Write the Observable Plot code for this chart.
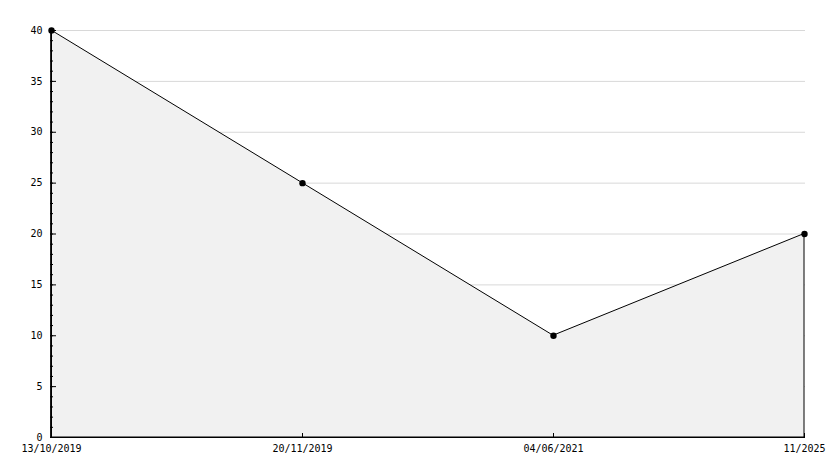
<!DOCTYPE html>
<html>
<head>
<meta charset="utf-8">
<script src="https://cdn.jsdelivr.net/npm/d3@7"></script>
<script src="https://cdn.jsdelivr.net/npm/@observablehq/plot@0.6"></script>
<style>
  html, body { margin: 0; padding: 0; background: #fff; }
  #chart svg { display: block; }
</style>
</head>
<body>
<div id="chart"></div>
<script>
const dates = ["13/10/2019", "20/11/2019", "04/06/2021", "11/2025"];
const values = [40, 25, 10, 20];
const majorTicks = [0, 5, 10, 15, 20, 25, 30, 35, 40];
const minorTicks = d3.range(0, 41, 1);

const data = dates.map((d, i) => ({date: d, value: values[i]}));

const chart = Plot.plot({
  width: 834,
  height: 468,
  marginLeft: 50,
  marginRight: 29,
  marginTop: 30,
  marginBottom: 31,
  style: {fontFamily: "'DejaVu Sans Mono', monospace", fontSize: "10px", color: "#000", background: "#fff"},
  x: {type: "point", domain: dates, padding: 0, label: null},
  y: {domain: [0, 40], label: null},
  marks: [
    Plot.gridY(majorTicks, {stroke: "#d8d8d8", strokeOpacity: 1}),
    Plot.areaY(data, {x: "date", y: "value", fill: "#f1f1f1", stroke: "#000", strokeWidth: 1}),
    Plot.ruleY([0], {stroke: "#000"}),
    Plot.ruleX([dates[0]], {stroke: "#000"}),
    Plot.axisY(minorTicks, {tickSize: -3, text: null, stroke: "#000", label: null}),
    Plot.axisY(majorTicks, {tickSize: -6, tickPadding: 14, stroke: "#000", fill: "#000", label: null}),
    Plot.axisX(dates, {tickSize: -4, tickPadding: 11, stroke: "#000", fill: "#000", label: null}),
    Plot.dot(data, {x: "date", y: "value", r: 3.2, fill: "#000", symbol: "circle"})
  ]
});
document.getElementById("chart").appendChild(chart);
</script>
</body>
</html>
